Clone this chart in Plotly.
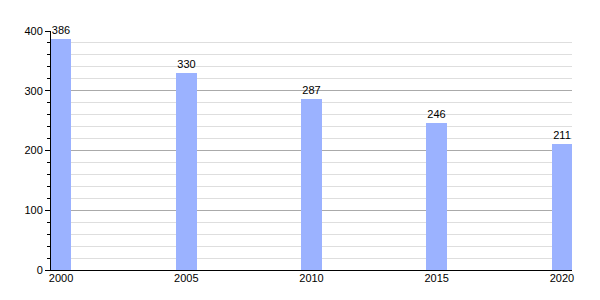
import plotly.graph_objects as go

years = [2000, 2005, 2010, 2015, 2020]
values = [386, 330, 287, 246, 211]
x_ticks = [2000, 2005, 2010, 2015, 2020]
y_ticks = [0, 100, 200, 300, 400]

fig = go.Figure(go.Bar(
    x=years, y=values, width=0.82,
    marker=dict(color="#9bb2ff", line=dict(width=0)),
    text=[str(v) for v in values], textposition="outside",
    textfont=dict(family="Liberation Sans, Arial, sans-serif", size=11, color="black"),
    cliponaxis=False,
))

fig.update_layout(
    width=600, height=300,
    margin=dict(l=51, r=28, t=31, b=30),
    paper_bgcolor="white", plot_bgcolor="white",
    showlegend=False, bargap=0,
    font=dict(family="Liberation Sans, Arial, sans-serif", size=11, color="black"),
)
fig.update_xaxes(
    range=[1999.6, 2020.4], tickvals=x_ticks, ticktext=[str(t) for t in x_ticks],
    showgrid=False, zeroline=False, showline=True, linecolor="black", linewidth=1,
    ticks="", ticklabelstandoff=-2,
)
fig.update_yaxes(
    range=[0, 400], tickvals=y_ticks, showgrid=True, gridcolor="#aaaaaa", gridwidth=1,
    zeroline=False, showline=True, linecolor="black", linewidth=1,
    ticks="outside", ticklen=5, tickcolor="black",
    minor=dict(dtick=20, showgrid=True, gridcolor="#dedede", ticks="outside", ticklen=3, tickcolor="black"),
)

fig.write_html("out.html")
